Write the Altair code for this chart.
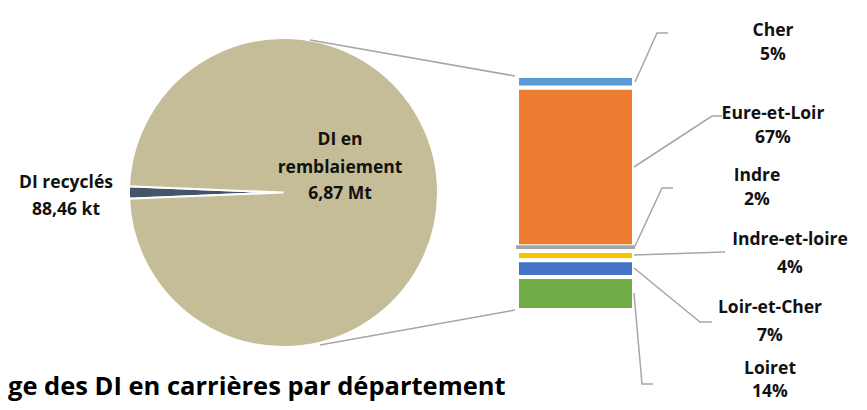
import math
import altair as alt
import pandas as pd

# ---- data ----
pie_names = ["DI recyclés", "DI en remblaiement"]
pie_values_kt = [88.46, 6870.0]
pie_label_lines = [["DI recyclés", "88,46 kt"], ["DI en", "remblaiement", "6,87 Mt"]]
pie_colors = ["#44546A", "#C4BD97"]

depts = ["Cher", "Eure-et-Loir", "Indre", "Indre-et-loire", "Loir-et-Cher", "Loiret"]
dept_pct = [5, 67, 2, 4, 7, 14]
dept_colors = ["#5B9BD5", "#ED7D31", "#A5A5A5", "#FFC000", "#4472C4", "#70AD47"]

title_text = "ge des DI en carrières par département"

# ---- layout (chart pixels) ----
W, H = 851, 394
CX, CY, R = 275.5, 184.5, 154.5
BAR_X0, BAR_X1, BAR_Y0, BAR_Y1 = 509, 626, 68, 302
FONT = "Open Sans"

pie_label_pos = [[(58, 175), (58, 202)], [(332, 132), (332, 160), (332, 186)]]
dept_label_pos = [(765, 23, 47), (765, 106, 130), (749, 168, 192),
                  (782, 232, 260), (762, 300, 328), (762, 361, 384)]
dept_leaders = [
    [(627, 74), (649, 25), (660, 25)],
    [(626, 159), (704, 108), (714, 108)],
    [(627, 238), (654, 180), (665, 180)],
    [(626, 247), (717, 244)],
    [(626, 260), (692, 314), (704, 314)],
    [(626, 285), (634, 376), (645, 376)],
]
connectors = [[(302, 32), (507, 68)], [(312, 337), (507, 302)]]

all_names = pie_names + depts
all_colors = pie_colors + dept_colors
color_scale = alt.Scale(domain=all_names, range=all_colors)

# ---- pie ----
frac = pie_values_kt[0] / sum(pie_values_kt)
start = 1.5 * math.pi - frac * math.pi
pie_df = pd.DataFrame({"name": pie_names, "value": pie_values_kt, "idx": [0, 1]})
pie = alt.Chart(pie_df).mark_arc(radius=R, stroke="white", strokeWidth=2).encode(
    theta=alt.Theta("value:Q", stack=True,
                    scale=alt.Scale(range=[start, start + 2 * math.pi])),
    color=alt.Color("name:N", scale=color_scale, legend=None),
    order=alt.Order("idx:Q"),
    x=alt.value(CX), y=alt.value(CY),
)

# ---- stacked bar ----
bar_df = pd.DataFrame({"dept": depts, "pct": dept_pct, "idx": list(range(len(depts)))})
bar = alt.Chart(bar_df).transform_stack(
    stack="pct", as_=["y0", "y1"], groupby=[], sort=[alt.SortField("idx", order="ascending")]
).mark_rect().encode(
    x=alt.value(BAR_X0), x2=alt.value(BAR_X1),
    y=alt.Y("y0:Q",
            scale=alt.Scale(domain=[0, sum(dept_pct)], range=[BAR_Y0, BAR_Y1]),
            axis=None),
    y2="y1:Q",
    color=alt.Color("dept:N", scale=color_scale, legend=None),
    stroke=alt.condition(alt.datum.dept == "Indre", alt.value("#A5A5A5"), alt.value("white")),
    strokeWidth=alt.condition(alt.datum.dept == "Indre", alt.value(2), alt.value(4)),
)

# ---- lines ----
rows = []
for g, pts in enumerate(connectors + dept_leaders):
    for k, (px, py) in enumerate(pts):
        rows.append({"g": g, "k": k, "px": px, "py": py})
lines_df = pd.DataFrame(rows)
lines = alt.Chart(lines_df).mark_line(color="#A6A6A6", strokeWidth=1.5).encode(
    x=alt.X("px:Q", scale=None),
    y=alt.Y("py:Q", scale=None),
    detail="g:N",
    order="k:Q",
)

# ---- texts ----
trows = []
for lines_txt, pos in zip(pie_label_lines, pie_label_pos):
    for t, (px, py) in zip(lines_txt, pos):
        trows.append({"t": t, "px": px, "py": py})
for d, p, (px, y1, y2) in zip(depts, dept_pct, dept_label_pos):
    trows.append({"t": d, "px": px, "py": y1})
    trows.append({"t": f"{p}%", "px": px, "py": y2})
text_df = pd.DataFrame(trows)
texts = alt.Chart(text_df).mark_text(
    font=FONT, fontSize=17.5, fontWeight="bold", color="#111111",
    align="center", baseline="middle",
).encode(
    x=alt.X("px:Q", scale=None),
    y=alt.Y("py:Q", scale=None),
    text="t:N",
)

title_df = pd.DataFrame({"t": [title_text], "px": [0], "py": [387]})
title = alt.Chart(title_df).mark_text(
    font=FONT, fontSize=25.5, fontWeight="bold", color="#000000",
    align="left", baseline="alphabetic",
).encode(
    x=alt.X("px:Q", scale=None),
    y=alt.Y("py:Q", scale=None),
    text="t:N",
)

chart = alt.layer(pie, bar, lines, texts, title).resolve_scale(
    x="independent", y="independent"
).properties(
    width=W, height=H, padding=0, autosize=alt.AutoSizeParams(type="none")
).configure_view(stroke=None)

chart.save("out.html", embed_options={"renderer": "svg", "actions": False})
